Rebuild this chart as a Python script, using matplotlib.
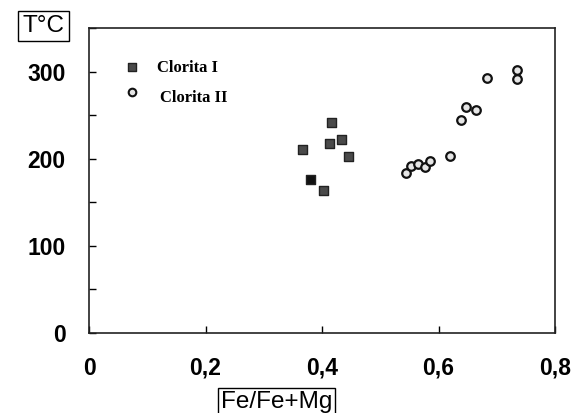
import matplotlib
matplotlib.use("Agg")
from matplotlib import pyplot as plt
from matplotlib.ticker import MultipleLocator, FuncFormatter

# Clorita I (squares)
clorita_i_x = [0.417, 0.367, 0.412, 0.434, 0.445, 0.381, 0.403]
clorita_i_y = [241, 211, 218, 222, 203, 176, 163]

# Clorita II (circles)
clorita_ii_x = [0.544, 0.553, 0.565, 0.577, 0.585, 0.620, 0.639, 0.647,
                0.664, 0.683, 0.735, 0.735]
clorita_ii_y = [184, 192, 194, 191, 197, 203, 244, 259, 256, 293, 302, 291]

series_labels = ["Clorita I", "Clorita II"]
x_label = "Fe/Fe+Mg"
y_label = "T\u00b0C"

fig = plt.figure(figsize=(5.83, 4.13), dpi=100)
ax = fig.add_axes([0.1527, 0.1937, 0.7993, 0.7385])

# Squares: one of them is printed darker in the original
sq_face = ["#4a4a4a"] * len(clorita_i_x)
sq_face[5] = "#111111"
ax.scatter(clorita_i_x, clorita_i_y, marker="s", s=42, c=sq_face,
           edgecolors="#222222", linewidths=1.0, zorder=3)
ax.scatter(clorita_ii_x, clorita_ii_y, marker="o", s=38, facecolors="#e6e6e6",
           edgecolors="#111111", linewidths=1.6, zorder=3)

ax.set_xlim(0, 0.8)
ax.set_ylim(0, 350)

ax.xaxis.set_major_locator(MultipleLocator(0.2))
ax.yaxis.set_major_locator(MultipleLocator(100))
ax.yaxis.set_minor_locator(MultipleLocator(50))
ax.xaxis.set_major_formatter(FuncFormatter(
    lambda v, p: "0" if abs(v) < 1e-9 else f"{v:.1f}".replace(".", ",")))
ax.yaxis.set_major_formatter(FuncFormatter(lambda v, p: f"{v:.0f}"))

ax.tick_params(axis="both", direction="in", length=5, width=1.0, pad=17,
               labelsize=16.5)
ax.tick_params(axis="y", which="minor", direction="in", length=5, width=1.0)
ax.tick_params(top=False, right=False)
for lab in ax.get_xticklabels() + ax.get_yticklabels():
    lab.set_fontfamily(["Liberation Sans", "DejaVu Sans"])
    lab.set_fontweight("bold")

for side in ax.spines.values():
    side.set_linewidth(1.2)
    side.set_color("#222222")

# Hand-made legend inside the axes
ax.scatter([0.074], [305], marker="s", s=40, c="#4a4a4a",
           edgecolors="#222222", linewidths=1.0, clip_on=False)
ax.scatter([0.074], [277], marker="o", s=30, facecolors="#e6e6e6",
           edgecolors="#111111", linewidths=1.5, clip_on=False)
ax.text(0.117, 304, series_labels[0], fontsize=12, fontweight="bold",
        family=["Liberation Serif", "DejaVu Serif"], va="center", ha="left")
ax.text(0.122, 270, series_labels[1], fontsize=12, fontweight="bold",
        family=["Liberation Serif", "DejaVu Serif"], va="center", ha="left")

# Boxed axis titles
box = dict(boxstyle="square,pad=0.18", facecolor="white", edgecolor="black",
           linewidth=1.0)
fig.text(0.075, 0.937, y_label, fontsize=17.5, ha="center", va="center",
         family=["Liberation Sans", "DejaVu Sans"], bbox=box)
fig.text(0.474, 0.026, x_label, fontsize=17.5, ha="center", va="center",
         family=["Liberation Sans", "DejaVu Sans"],
         bbox=dict(boxstyle="square,pad=0.12", facecolor="white",
                   edgecolor="black", linewidth=1.0))

fig.savefig("out.png", dpi=100)
